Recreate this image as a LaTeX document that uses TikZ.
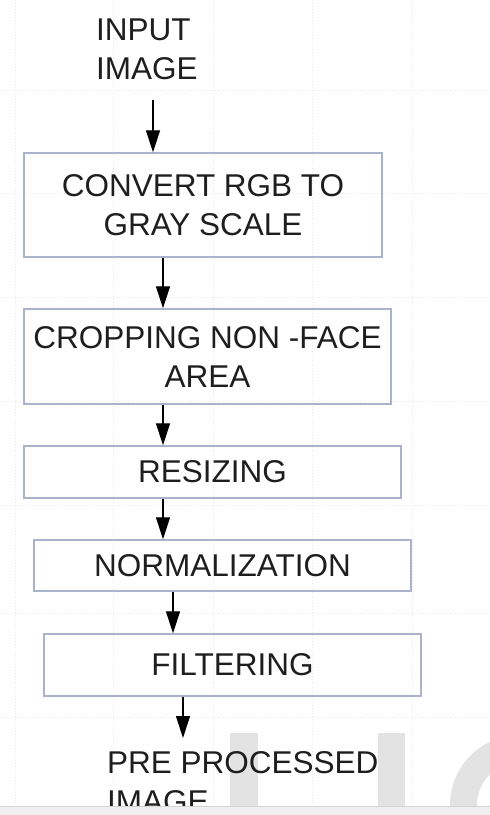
\documentclass[tikz,border=0pt]{standalone}
\usepackage{fontspec}
\setmainfont{Liberation Sans}
\usetikzlibrary{arrows.meta}

\definecolor{boxline}{HTML}{A9B4CC}
\definecolor{ink}{HTML}{1E1E1E}
\definecolor{wmark}{HTML}{E3E3E3}

\begin{document}
\begin{tikzpicture}
[x=1pt,y=-1pt]
\tikzset{box/.style={draw=boxline,line width=1.4pt,text=ink,align=center,inner sep=0pt}}
\tikzset{lbl/.style={text=ink,align=left,inner sep=0pt}}
\tikzset{arr/.style={-{Triangle[length=22pt,width=14pt]},line width=1.1pt,draw=black}}
\tikzset{grid/.style={draw=gray!18,dotted,line width=0.9pt}}
\useasboundingbox (0,0) rectangle (490,815);
\fill[white] (0,0) rectangle (490,815);

\foreach \y in {90,193,297,401,505,613,717}
	\draw[grid] (0,\y) -- (490,\y);
\foreach \x in {15,113,213,312,412}
	\draw[grid] (\x,0) -- (\x,806);

\fill[wmark] (230,733) rectangle (258,815);
\fill[wmark] (378,733) rectangle (405,815);
\fill[wmark,even odd rule] (520,805) circle (70) (520,805) circle (43);

\fontsize{31.5}{39}\selectfont
\node [lbl,anchor=north west] (inimg) at (96,19) {INPUT\\IMAGE};
\node [box,minimum width=358pt,minimum height=104pt] (gray) at (203,205) {CONVERT RGB TO\\GRAY SCALE};
\node [box,minimum width=367pt,minimum height=95pt] (crop) at (207.5,356.5) {CROPPING NON -FACE\\AREA};
\node [box,minimum width=377pt,minimum height=52pt] (resize) at (212.5,472) {RESIZING};
\node [box,minimum width=377pt,minimum height=51pt] (norm) at (222.5,565.5) {NORMALIZATION};
\node [box,minimum width=377pt,minimum height=62pt] (filt) at (232.5,665) {FILTERING};
\node [lbl,anchor=north west] (outimg) at (107,751) {PRE PROCESSED\\IMAGE};

\foreach \from/\to/\x in {gray/crop/163,crop/resize/163,resize/norm/163,norm/filt/173}
	\draw [arr] (\x,0 |- \from.south) -- (\x,0 |- \to.north);
\draw [arr,shorten <=20pt] (153,0 |- inimg.south) -- (153,0 |- gray.north);
\draw [arr,shorten >=13pt] (183,0 |- filt.south) -- (183,0 |- outimg.north);

\fill[gray!12] (0,806) rectangle (490,815);
\draw[gray!35,line width=1pt] (0,806) -- (490,806);

\end{tikzpicture}
\end{document}
